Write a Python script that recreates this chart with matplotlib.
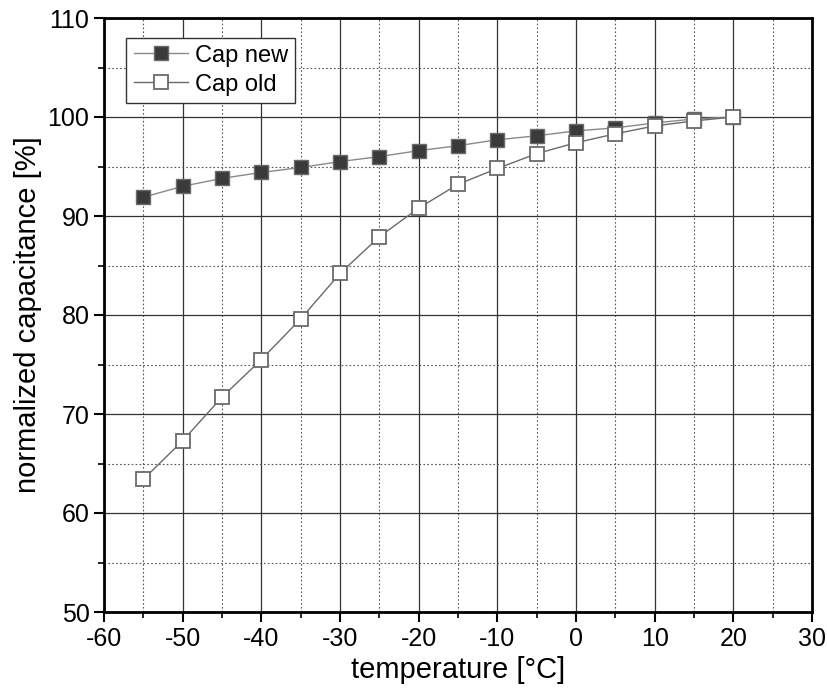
import matplotlib.pyplot as plt
from matplotlib.ticker import MultipleLocator

plt.rcParams['font.family'] = ['Liberation Sans', 'DejaVu Sans']
plt.rcParams['axes.unicode_minus'] = False

# Datos: temperatura y capacitancia normalizada
temperatura = [-55, -50, -45, -40, -35, -30, -25, -20, -15, -10, -5, 0, 5, 10, 15, 20]
cap_new = [91.9, 93.0, 93.8, 94.4, 94.9, 95.5, 96.0, 96.6, 97.1, 97.7, 98.1, 98.6, 98.9, 99.4, 99.8, 100.0]
cap_old = [63.4, 67.3, 71.7, 75.5, 79.6, 84.2, 87.9, 90.8, 93.2, 94.8, 96.3, 97.4, 98.3, 99.1, 99.6, 100.0]

fig = plt.figure(figsize=(8.28, 6.94), dpi=100)
ax = fig.add_axes([104 / 828, 1 - 612 / 694, 708 / 828, 594 / 694])

ax.plot(temperatura, cap_new, color='#8a8a8a', lw=1, marker='s', markersize=10,
        markerfacecolor='#3a3a3a', markeredgecolor='#6a6a6a', markeredgewidth=1,
        label='Cap new', zorder=3)
ax.plot(temperatura, cap_old, color='#6a6a6a', lw=1, marker='s', markersize=10,
        markerfacecolor='white', markeredgecolor='#6a6a6a', markeredgewidth=1.3,
        label='Cap old', zorder=4)

ax.set_xlim(-60, 30)
ax.set_ylim(50, 110)
ax.xaxis.set_major_locator(MultipleLocator(10))
ax.xaxis.set_minor_locator(MultipleLocator(5))
ax.yaxis.set_major_locator(MultipleLocator(10))
ax.yaxis.set_minor_locator(MultipleLocator(5))

ax.grid(which='major', color='#333333', lw=0.9, ls='-')
ax.grid(which='minor', color='#555555', lw=0.8, ls=(0, (1.5, 2)))
ax.set_axisbelow(True)

for s in ax.spines.values():
    s.set_linewidth(2)
ax.tick_params(which='major', direction='out', length=7, width=1.5, labelsize=18)
ax.tick_params(which='minor', direction='out', length=4, width=1.2)

ax.set_xlabel('temperature [°C]', fontsize=21)
ax.set_ylabel('normalized capacitance [%]', fontsize=21)

leg = ax.legend(loc='upper left', bbox_to_anchor=(0.025, 0.975), fontsize=17, fancybox=False,
                framealpha=1, edgecolor='#333333', borderpad=0.3, handlelength=2.3,
                handletextpad=0.3, labelspacing=0.3, borderaxespad=0.2)
leg.get_frame().set_linewidth(1)

plt.savefig('out.png', dpi=100)
